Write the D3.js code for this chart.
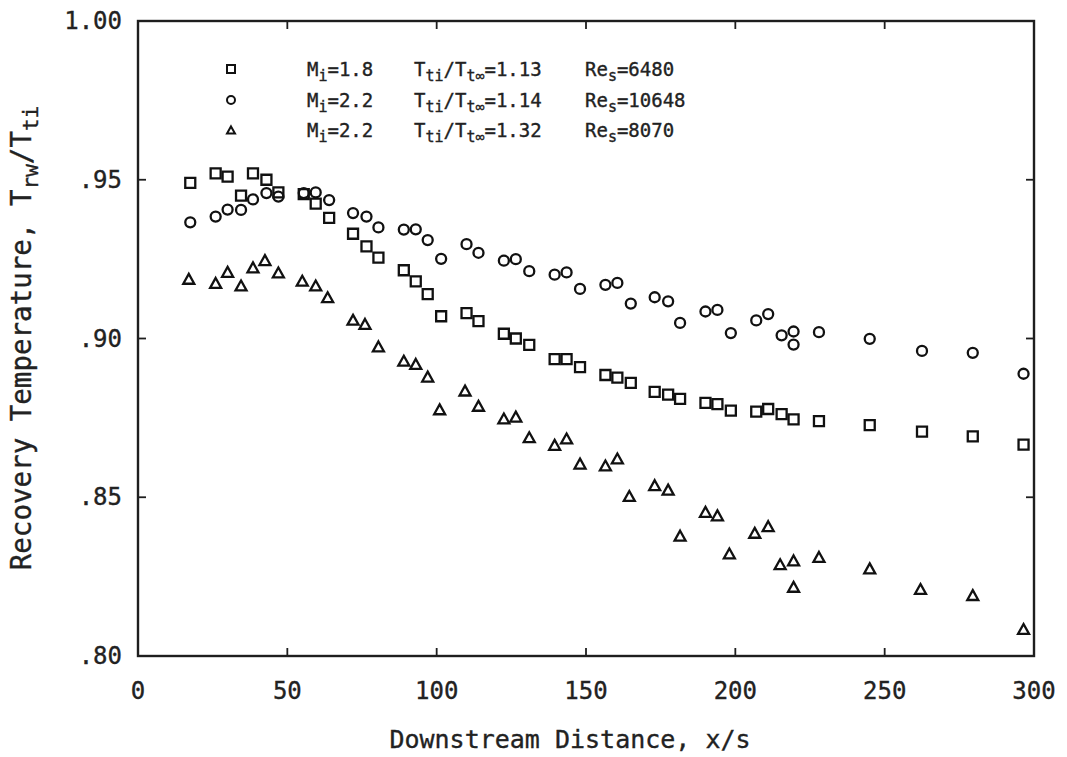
<!DOCTYPE html>
<html>
<head>
<meta charset="utf-8">
<script src="https://cdn.jsdelivr.net/npm/d3@7/dist/d3.min.js"></script>
<style>
  html, body { margin: 0; padding: 0; background: #fff; }
  svg { display: block; }
  text { font-family: "DejaVu Sans Mono", "Liberation Mono", monospace; fill: #222; stroke: #222; stroke-width: 0.35px; }
</style>
</head>
<body>
<svg id="chart" width="1067" height="757"></svg>
<script>
// Axis ticks
const xTicks = [0, 50, 100, 150, 200, 250, 300];
const yTicks = [0.80, 0.85, 0.90, 0.95, 1.00];
const yTickLabels = [".80", ".85", ".90", ".95", "1.00"];

// Series 1: Mi=1.8, Tti/Tt∞=1.13, Res=6480 (squares)
const sqX = [17.5, 26, 30, 34.5, 38.5, 43, 47, 55.5, 59.5, 64, 72, 76.5, 80.5, 89, 93, 97, 101.5, 110, 114,
  122.5, 126.5, 131, 139.5, 143.5, 148, 156.5, 160.5, 165, 173, 177.5, 181.5, 190, 194, 198.5, 207, 211,
  215.5, 219.5, 228, 245, 262.5, 279.5, 296.5];
const sqY = [.949, .952, .951, .945, .952, .950, .946, .9455, .9425, .938, .933, .929, .9255, .9215, .918,
  .914, .907, .908, .9055, .9015, .900, .898, .8935, .8935, .891, .8885, .8877, .886, .8832, .8823, .881,
  .8797, .8793, .8773, .877, .8778, .8762, .8745, .874, .8727, .8707, .8692, .8666];

// Series 2: Mi=2.2, Tti/Tt∞=1.14, Res=10648 (circles)
const ciX = [17.5, 26, 30, 34.5, 38.5, 43, 47, 55.5, 59.5, 64, 72, 76.5, 80.5, 89, 93, 97, 101.5, 110, 114,
  122.5, 126.5, 131, 139.5, 143.5, 148, 156.5, 160.5, 165, 173, 177.5, 181.5, 190, 194, 198.5, 207, 211,
  215.5, 219.5, 219.5, 228, 245, 262.5, 279.5, 296.5];
const ciY = [.9366, .9384, .9406, .9405, .9438, .9458, .9447, .9458, .946, .9436, .9395, .9384, .935, .9343,
  .9344, .931, .9251, .9297, .927, .9245, .925, .9212, .9201, .9208, .9156, .9169, .9175, .911, .913, .9117,
  .9049, .9085, .909, .9017, .9057, .9077, .901, .9022, .8981, .902, .8999, .8961, .8955, .8889];

// Series 3: Mi=2.2, Tti/Tt∞=1.32, Res=8070 (triangles)
const trX = [17, 26, 30, 34.5, 38.5, 42.5, 47, 55, 59.5, 63.5, 72, 76, 80.5, 89, 93, 97, 101, 109.5, 114,
  122.5, 126.5, 131, 139.5, 143.5, 148, 156.5, 160.5, 164.5, 173, 177.5, 181.5, 190, 194, 198, 206.5, 211,
  215, 219.5, 219.5, 228, 245, 262, 279.5, 296.5];
const trY = [.9188, .9175, .921, .9167, .9224, .9247, .9208, .9182, .9167, .913, .9059, .9046, .8975, .893,
  .892, .888, .8777, .8836, .8788, .8748, .8754, .8689, .8665, .8685, .8606, .860, .8622, .8504, .8538,
  .8524, .8379, .8454, .8443, .8323, .8388, .8409, .8289, .8301, .8218, .8312, .8276, .8211, .8192, .8085];

const svg = d3.select("#chart");
const margin = { left: 138, right: 1034, top: 21, bottom: 656 };

const x = d3.scaleLinear().domain([0, 300]).range([margin.left, margin.right]);
const y = d3.scaleLinear().domain([0.80, 1.00]).range([margin.bottom, margin.top]);

const ink = "#1e1e1e";
const tickLen = 8;

// Frame
svg.append("rect")
  .attr("x", margin.left).attr("y", margin.top)
  .attr("width", margin.right - margin.left).attr("height", margin.bottom - margin.top)
  .attr("fill", "none").attr("stroke", ink).attr("stroke-width", 2.4);

// Inward ticks on all four sides
const innerX = xTicks.filter(d => d > 0 && d < 300);
const innerY = yTicks.filter(d => d > 0.80 && d < 1.00);
const tickG = svg.append("g").attr("stroke", ink).attr("stroke-width", 1.8);
innerX.forEach(d => {
  tickG.append("line").attr("x1", x(d)).attr("x2", x(d)).attr("y1", margin.bottom).attr("y2", margin.bottom - tickLen);
  tickG.append("line").attr("x1", x(d)).attr("x2", x(d)).attr("y1", margin.top).attr("y2", margin.top + tickLen);
});
innerY.forEach(d => {
  tickG.append("line").attr("y1", y(d)).attr("y2", y(d)).attr("x1", margin.left).attr("x2", margin.left + tickLen);
  tickG.append("line").attr("y1", y(d)).attr("y2", y(d)).attr("x1", margin.right).attr("x2", margin.right - tickLen);
});

// Tick labels
svg.append("g").selectAll("text").data(xTicks).join("text")
  .attr("x", d => x(d)).attr("y", 699)
  .attr("text-anchor", "middle")
  .attr("font-size", 24)
  .text(d => d);

svg.append("g").selectAll("text").data(yTicks).join("text")
  .attr("x", 122).attr("y", d => y(d) + 8)
  .attr("text-anchor", "end")
  .attr("font-size", 24)
  .text((d, i) => yTickLabels[i]);

// Axis titles
svg.append("text")
  .attr("x", 570).attr("y", 748)
  .attr("text-anchor", "middle").attr("font-size", 25)
  .text("Downstream Distance, x/s");

const yTitle = svg.append("text")
  .attr("transform", `translate(31, 338) rotate(-90)`)
  .attr("text-anchor", "middle").attr("font-size", 27.5);
yTitle.append("tspan").text("Recovery Temperature, T");
yTitle.append("tspan").attr("font-size", 21).attr("dy", 7).text("rw");
yTitle.append("tspan").attr("dy", -7).text("/T");
yTitle.append("tspan").attr("font-size", 21).attr("dy", 7).text("ti");

// Marker shapes
function squarePath(s) {
  const h = s / 2;
  return `M${-h},${-h}H${h}V${h}H${-h}Z`;
}
function trianglePath(s) {
  const h = s * 0.9;
  return `M0,${-h / 2}L${s / 2},${h / 2}L${-s / 2},${h / 2}Z`;
}

const plot = svg.append("g").attr("fill", "none").attr("stroke", "#111").attr("stroke-width", 2.3);

plot.append("g").selectAll("path").data(d3.zip(sqX, sqY)).join("path")
  .attr("transform", d => `translate(${x(d[0])},${y(d[1])})`)
  .attr("d", squarePath(10));

plot.append("g").selectAll("circle").data(d3.zip(ciX, ciY)).join("circle")
  .attr("cx", d => x(d[0])).attr("cy", d => y(d[1])).attr("r", 5);

plot.append("g").selectAll("path").data(d3.zip(trX, trY)).join("path")
  .attr("transform", d => `translate(${x(d[0])},${y(d[1])})`)
  .attr("d", trianglePath(11));

// Legend
const legendRows = [
  { shape: "square", M: "1.8", ratio: "1.13", Re: "6480" },
  { shape: "circle", M: "2.2", ratio: "1.14", Re: "10648" },
  { shape: "triangle", M: "2.2", ratio: "1.32", Re: "8070" }
];
const legY = [69, 100, 130];
const legG = svg.append("g");
legendRows.forEach((r, i) => {
  const cy = legY[i];
  const m = legG.append("g").attr("transform", `translate(231,${cy})`)
    .attr("fill", "none").attr("stroke", "#111").attr("stroke-width", 2);
  if (r.shape === "square") m.append("path").attr("d", squarePath(8));
  else if (r.shape === "circle") m.append("circle").attr("r", 4);
  else m.append("path").attr("d", trianglePath(8));

  const base = cy + 7;
  const t1 = legG.append("text").attr("x", 307).attr("y", base).attr("font-size", 19);
  t1.append("tspan").text("M");
  t1.append("tspan").attr("font-size", 15).attr("dy", 5).text("i");
  t1.append("tspan").attr("dy", -5).text("=" + r.M);

  const t2 = legG.append("text").attr("x", 414).attr("y", base).attr("font-size", 19);
  t2.append("tspan").text("T");
  t2.append("tspan").attr("font-size", 15).attr("dy", 5).text("ti");
  t2.append("tspan").attr("dy", -5).text("/T");
  t2.append("tspan").attr("font-size", 15).attr("dy", 5).text("t∞");
  t2.append("tspan").attr("dy", -5).text("=" + r.ratio);

  const t3 = legG.append("text").attr("x", 585).attr("y", base).attr("font-size", 19);
  t3.append("tspan").text("Re");
  t3.append("tspan").attr("font-size", 15).attr("dy", 5).text("s");
  t3.append("tspan").attr("dy", -5).text("=" + r.Re);
});
</script>
</body>
</html>
